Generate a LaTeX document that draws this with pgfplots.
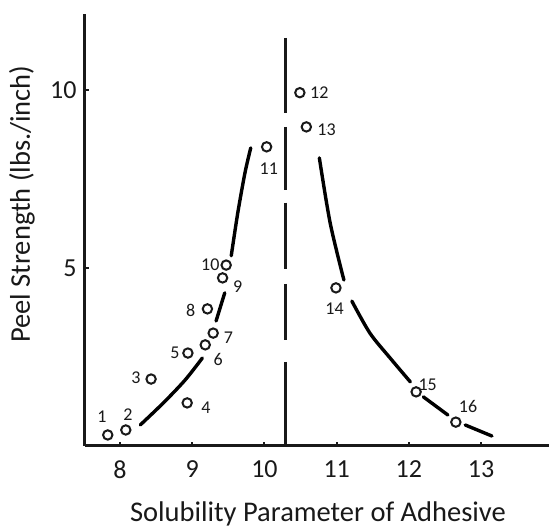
\documentclass[border=0pt]{standalone}
\usepackage{pgfplots}
\pgfplotsset{compat=1.18}
\usepackage{fontspec}
\setmainfont{Carlito}

\pgfplotsset{
  curve/.style={black, line width=3.4pt, line cap=round, smooth, mark=none},
}

\begin{document}
\begin{tikzpicture}
\useasboundingbox (-85pt,-83pt) rectangle (464pt,446pt);
\begin{axis}[
  scale only axis, width=464pt, height=432pt,
  xmin=7.515, xmax=13.94, ymin=0, ymax=12.13,
  axis lines=left,
  axis line style={-, line width=3pt, black!90},
  xtick={8,...,13}, ytick={5,10},
  tick align=inside, major tick length=4pt,
  tick style={line width=2pt, black!90},
  /pgf/number format/assume math mode=true,
  ticklabel style={font=\fontsize{26}{30}\selectfont, text=black!90},
  xticklabel style={yshift=-11pt},
  yticklabel style={xshift=-5pt},
  every axis x label/.style={at={(axis description cs:0.502,-0.157)}, anchor=center},
  every axis y label/.style={at={(axis description cs:-0.136,0.56)}, rotate=90, anchor=center},
  label style={font=\fontsize{28.5}{32}\selectfont, text=black!90},
  xlabel={Solubility Parameter of Adhesive},
  ylabel={Peel Strength (lbs./inch)},
  unbounded coords=jump,
  clip=false,
]
% vertical dashed line
\addplot[black!90, line width=3pt, mark=none] coordinates {
  (10.29,11.46) (10.29,9.35) (10.29,nan)
  (10.29,8.96) (10.29,7.19) (10.29,nan)
  (10.29,6.83) (10.29,4.97) (10.29,nan)
  (10.29,4.55) (10.29,2.98) (10.29,nan)
  (10.29,2.36) (10.29,0)
};
% left curve
\addplot[curve] coordinates {(8.28,0.59) (8.60,1.21) (8.90,1.85) (9.14,2.47)};
\addplot[curve] coordinates {(9.33,3.51) (9.45,4.30)};
\addplot[curve] coordinates {(9.54,5.34) (9.63,6.54) (9.73,7.67) (9.81,8.37)};
% right curve
\addplot[curve] coordinates {(10.76,8.09) (10.91,6.26) (11.10,4.66)};
\addplot[curve] coordinates {(11.21,4.07) (11.46,3.17) (11.74,2.47) (12.02,1.80)};
\addplot[curve] coordinates {(12.20,1.38) (12.54,0.87)};
\addplot[curve] coordinates {(12.78,0.59) (13.15,0.28)};
% data points
\addplot[only marks, mark=*, mark size=4.7pt,
  mark options={fill=white, draw=black!90, line width=2pt}] coordinates {
  (7.83,0.31) (8.08,0.45) (8.43,1.88) (8.93,1.21) (8.94,2.61) (9.18,2.84)
  (9.29,3.17) (9.21,3.85) (9.42,4.72) (9.47,5.08) (10.03,8.40) (10.49,9.92)
  (10.58,8.96) (10.99,4.44) (12.10,1.52) (12.65,0.67)
};
% point numbers
\addplot[only marks, mark=*, mark size=0.01pt, mark options={draw=none, fill=none},
  nodes near coords, point meta=explicit symbolic,
  every node near coord/.style={anchor=center, inner sep=0pt,
    font=\fontsize{18}{20}\selectfont, text=black!90}]
  table[meta=l] {
  x y l
  7.75 0.81 1
  8.11 0.87 2
  8.22 1.91 3
  9.19 1.07 4
  8.76 2.61 5
  9.36 2.42 6
  9.50 3.03 7
  8.98 3.82 8
  9.63 4.47 9
  9.25 5.08 10
  10.06 7.78 11
  10.76 9.92 12
  10.86 8.88 13
  10.97 3.85 14
  12.26 1.71 15
  12.82 1.10 16
};
\end{axis}
\end{tikzpicture}
\end{document}
